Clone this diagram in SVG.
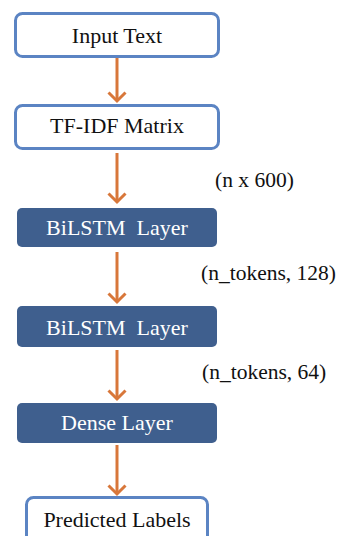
<svg xmlns="http://www.w3.org/2000/svg" width="339" height="536" viewBox="0 0 339 536">
<defs>
<style>
.io{fill:#ffffff;stroke:#5b84c3;stroke-width:3}
.layer{fill:#3f5f8e;stroke:none}
text{font-family:'Liberation Serif','DejaVu Serif',serif;font-size:22px}
.t{text-anchor:middle;fill:#111}
.tw{text-anchor:middle;fill:#ffffff}
.lbl{fill:#111;font-size:21.5px}
.arr{stroke:#d8773a;stroke-width:3;fill:none}
</style>
<marker id="ah" markerUnits="userSpaceOnUse" markerWidth="20" markerHeight="20" refX="10" refY="10" orient="auto" overflow="visible">
<path d="M1.5,1.5 L10,10 L1.5,18.5" fill="none" stroke="#d8773a" stroke-width="3"/>
</marker>
</defs>
<rect width="339" height="536" fill="#ffffff"/>
<g id="connectors">
<line class="arr" x1="117" y1="58" x2="117" y2="101" marker-end="url(#ah)"/>
<line class="arr" x1="117" y1="153" x2="117" y2="202" marker-end="url(#ah)"/>
<line class="arr" x1="117" y1="252" x2="117" y2="302" marker-end="url(#ah)"/>
<line class="arr" x1="117" y1="350" x2="117" y2="399" marker-end="url(#ah)"/>
<line class="arr" x1="117" y1="445" x2="117" y2="494" marker-end="url(#ah)"/>
</g>
<g id="input-text">
<rect class="io" x="15.5" y="13.5" width="203" height="43" rx="7"/>
<text class="t" x="117" y="43">Input Text</text>
</g>
<g id="tfidf-matrix">
<rect class="io" x="15.5" y="105.5" width="203" height="43" rx="7"/>
<text class="t" x="117" y="133">TF-IDF Matrix</text>
</g>
<g id="label-n600">
<text class="lbl" x="215" y="187">(n x 600)</text>
</g>
<g id="bilstm-1">
<rect class="layer" x="17" y="208" width="200" height="39" rx="5"/>
<text class="tw" x="117" y="235" xml:space="preserve">BiLSTM  Layer</text>
</g>
<g id="label-128">
<text class="lbl" x="201" y="280">(n_tokens, 128)</text>
</g>
<g id="bilstm-2">
<rect class="layer" x="17" y="306" width="200" height="41" rx="5"/>
<text class="tw" x="117" y="335" xml:space="preserve">BiLSTM  Layer</text>
</g>
<g id="label-64">
<text class="lbl" x="202" y="379">(n_tokens, 64)</text>
</g>
<g id="dense-layer">
<rect class="layer" x="17" y="403" width="200" height="40" rx="5"/>
<text class="tw" x="117" y="430">Dense Layer</text>
</g>
<g id="predicted-labels">
<rect class="io" x="26.5" y="497.5" width="181" height="50" rx="7"/>
<text class="t" x="117" y="527">Predicted Labels</text>
</g>
</svg>
